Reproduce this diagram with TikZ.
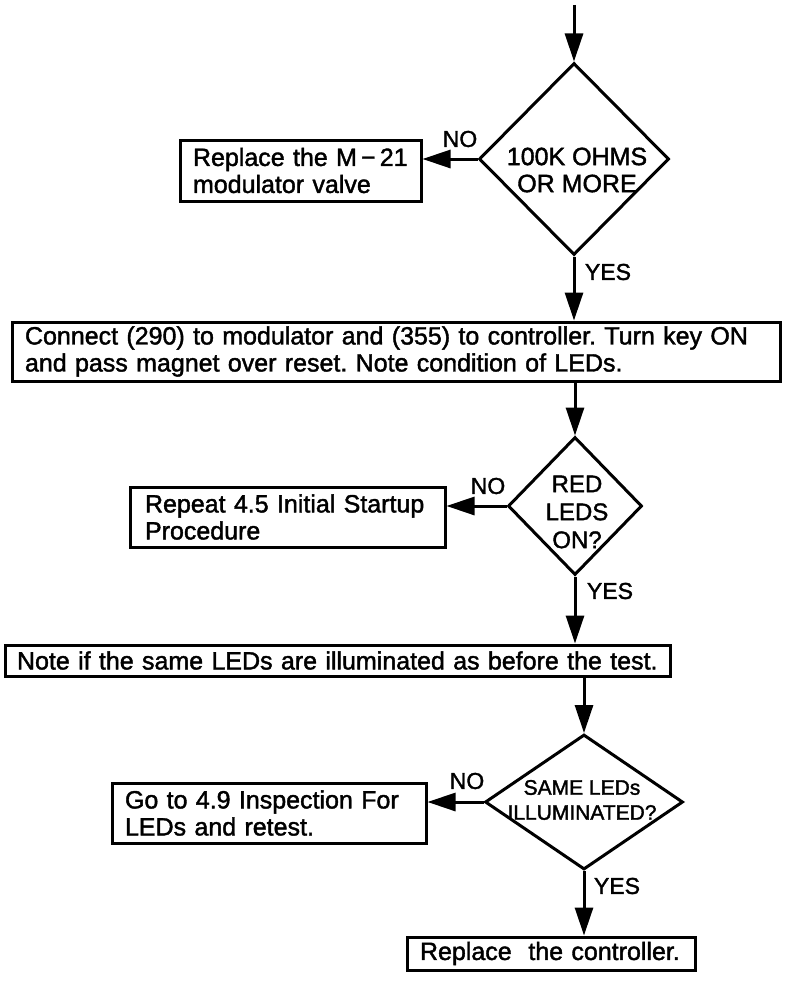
\documentclass[tikz,border=0pt]{standalone}
\usepackage{fontspec}
\setmainfont{Liberation Sans}[FakeBold=1.6]
\usetikzlibrary{arrows.meta,shapes.geometric}
\frenchspacing
\begin{document}
\begin{tikzpicture}[x=1pt,y=-1pt,
  every node/.style={font=\fontsize{25}{27}\selectfont},
  box/.style={draw,line width=3pt,align=left,anchor=center},
  dia/.style={draw,diamond,line width=3pt,inner sep=0pt},
  dtext/.style={align=center,inner sep=0pt},
  lbl/.style={font=\fontsize{23}{25}\selectfont,inner sep=0pt},
  arr/.style={-{Triangle[length=28pt,width=18pt]},line width=3pt},
]
\useasboundingbox[fill=white] (0,0) rectangle (800,982);

% start
\coordinate (start) at (574,5);

% decision 1
\node[dia,minimum width=190pt,minimum height=192pt] (d1) at (574,159) {};
\node[dtext] (d1t) at (577,170) {100K OHMS\\OR MORE};
\node[box,minimum height=61pt,inner xsep=13pt,text width=215pt] (b1) at (300.5,170.5) {Replace the M\,\textminus\,21\\modulator valve};
\node[lbl] (no1) at (460,139) {NO};
\node[lbl] (yes1) at (608,272) {YES};

% box 2
\node[box,minimum height=59pt,inner xsep=13pt,text width=742pt] (b2) at (396,351.5) {Connect (290) to modulator and (355) to controller. Turn key ON\\and pass magnet over reset. Note condition of LEDs.};

% decision 2
\node[dia,minimum width=134pt,minimum height=138pt] (d2) at (575,506) {};
\node[dtext,font=\fontsize{24}{28}\selectfont] (d2t) at (577,512) {RED\\LEDS\\ON?};
\node[box,minimum height=60pt,inner xsep=15pt,text width=285pt] (b3) at (287.5,517) {Repeat 4.5 Initial Startup\\Procedure};
\node[lbl] (no2) at (488,486) {NO};
\node[lbl] (yes2) at (610,591) {YES};

% box 4
\node[box,minimum height=31pt,inner xsep=12pt,text width=641pt] (b4) at (337.5,660.5) {Note if the same LEDs are illuminated as before the test.};

% decision 3
\node[dia,minimum width=198pt,minimum height=135pt] (d3) at (584,802) {};
\node[dtext,font=\fontsize{21}{25}\selectfont] (d3t) at (582,800) {SAME LEDs\\ILLUMINATED?};
\node[box,minimum height=60pt,inner xsep=13pt,text width=288pt] (b5) at (269,813) {Go to 4.9 Inspection For\\LEDs and retest.};
\node[lbl] (no3) at (467,781) {NO};
\node[lbl] (yes3) at (617,886) {YES};

% box 6
\node[box,minimum height=33pt,inner xsep=13pt,text width=262pt] (b6) at (551,953.5) {Replace\ \ the controller.};

% connectors
\draw[arr] (start) -- (d1.north);
\draw[arr] (d1.west) -- (d1.west -| b1.east);
\draw[arr] (d1.south) -- (d1.south |- b2.north);
\draw[arr] (d2.north |- b2.south) -- (d2.north);
\draw[arr] (d2.west) -- (d2.west -| b3.east);
\draw[arr] (d2.south) -- (d2.south |- b4.north);
\draw[arr] (d3.north |- b4.south) -- (d3.north);
\draw[arr] (d3.west) -- (d3.west -| b5.east);
\draw[arr] (d3.south) -- (d3.south |- b6.north);
\end{tikzpicture}
\end{document}
